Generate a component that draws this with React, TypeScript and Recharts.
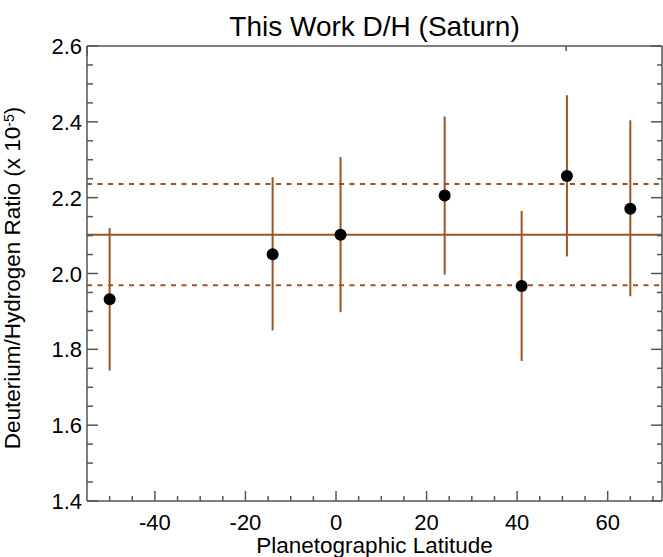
import React from 'react';
import { ComposedChart, Scatter, XAxis, YAxis, ErrorBar, ReferenceLine } from 'recharts';

// ---- data ----
const latitudes = [-50, -14, 1, 24, 41, 51, 65];
const dhRatio = [1.932, 2.051, 2.102, 2.206, 1.967, 2.257, 2.171];
const errLow = [1.744, 1.85, 1.898, 1.997, 1.769, 2.045, 1.94];
const errHigh = [2.12, 2.254, 2.307, 2.414, 2.165, 2.47, 2.404];
const meanDH = 2.102;
const meanLow = 1.969;
const meanHigh = 2.236;

const xMajorTicks = [-40, -20, 0, 20, 40, 60];
const yMajorTicks = [1.4, 1.6, 1.8, 2.0, 2.2, 2.4, 2.6];
const xDomain: [number, number] = [-55, 72];
const yDomain: [number, number] = [1.4, 2.6];

const titleText = 'This Work D/H (Saturn)';
const xLabelText = 'Planetographic Latitude';
const yLabelText = 'Deuterium/Hydrogen Ratio (x 10';
const yLabelExp = '-5';

// minor ticks
const xTicks: number[] = [];
for (let v = -50; v <= 70; v += 5) xTicks.push(v);
const yTicks: number[] = [];
for (let k = 0; k <= 24; k++) yTicks.push(Math.round((1.4 + k * 0.05) * 100) / 100);

const data = latitudes.map((lat, i) => ({
  lat,
  dh: dhRatio[i],
  err: [dhRatio[i] - errLow[i], errHigh[i] - dhRatio[i]],
}));

const BROWN = '#9c5424';
const AXIS = '#555';
const FONT = '"Liberation Sans", Arial, Helvetica, sans-serif';
const TICK_FS = 22;

const isMajor = (list: number[], v: number) => list.some((t) => Math.abs(t - v) < 1e-6);

const BottomTick = (props: any) => {
  const { x, y, payload } = props;
  const v = payload.value;
  const major = isMajor(xMajorTicks, v);
  const len = major ? 10 : 5;
  return (
    <g>
      <line x1={x} y1={y} x2={x} y2={y - len} stroke={AXIS} strokeWidth={1.5} />
      {major && (
        <text x={x} y={y + 29} textAnchor="middle" fontSize={TICK_FS} fontFamily={FONT} fill="#000">
          {String(v)}
        </text>
      )}
    </g>
  );
};

const TopTick = (props: any) => {
  const { x, y, payload } = props;
  const major = isMajor(xMajorTicks, payload.value);
  const len = major ? 10 : 5;
  return <line x1={x} y1={y} x2={x} y2={y + len} stroke={AXIS} strokeWidth={1.5} />;
};

const LeftTick = (props: any) => {
  const { x, y, payload } = props;
  const v = payload.value;
  const major = isMajor(yMajorTicks, v);
  const len = major ? 11 : 6;
  return (
    <g>
      <line x1={x} y1={y} x2={x + len} y2={y} stroke={AXIS} strokeWidth={1.5} />
      {major && (
        <text x={x - 5} y={y + 8} textAnchor="end" fontSize={TICK_FS} fontFamily={FONT} fill="#000">
          {v.toFixed(1)}
        </text>
      )}
    </g>
  );
};

const RightTick = (props: any) => {
  const { x, y, payload } = props;
  const major = isMajor(yMajorTicks, payload.value);
  const len = major ? 11 : 5;
  return <line x1={x} y1={y} x2={x - len} y2={y} stroke={AXIS} strokeWidth={1.5} />;
};

const Dot = (props: any) => <circle cx={props.cx} cy={props.cy} r={6} fill="#000" />;

const XLabel = () => (
  <text x={374.5} y={553} textAnchor="middle" fontSize={22.5} fontFamily={FONT} fill="#000">
    {xLabelText}
  </text>
);

const YLabel = () => (
  <text
    x={0}
    y={0}
    transform="translate(20, 278) rotate(-90)"
    textAnchor="middle"
    fontSize={22.5}
    fontFamily={FONT}
    fill="#000"
  >
    {yLabelText}
    <tspan fontSize={14} dy={-6}>{yLabelExp}</tspan>
    <tspan dy={6}>)</tspan>
  </text>
);

export default function App() {
  return (
    <div style={{ position: 'absolute', left: 0, top: 0, width: 663, height: 557, background: '#fff' }}>
      <div
        style={{
          position: 'absolute',
          left: 87,
          width: 575,
          top: 13,
          textAlign: 'center',
          fontFamily: FONT,
          fontSize: 28,
          lineHeight: '28px',
          color: '#000',
        }}
      >
        {titleText}
      </div>
      <ComposedChart width={663} height={557} data={data} margin={{ top: 45, right: 0, bottom: 0, left: 0 }}>
        <XAxis
          dataKey="lat"
          type="number"
          domain={xDomain}
          ticks={xTicks}
          interval={0}
          allowDataOverflow
          height={56}
          tickSize={0}
          tickMargin={0}
          tickLine={false}
          axisLine={{ stroke: AXIS, strokeWidth: 1.5 }}
          tick={BottomTick}
          label={XLabel}
        />
        <XAxis
          xAxisId="top"
          orientation="top"
          type="number"
          domain={xDomain}
          ticks={xTicks}
          interval={0}
          allowDataOverflow
          height={1}
          tickSize={0}
          tickMargin={0}
          tickLine={false}
          axisLine={{ stroke: AXIS, strokeWidth: 1.5 }}
          tick={TopTick}
        />
        <YAxis
          type="number"
          domain={yDomain}
          ticks={yTicks}
          interval={0}
          allowDataOverflow
          width={87}
          tickSize={0}
          tickMargin={0}
          tickLine={false}
          axisLine={{ stroke: AXIS, strokeWidth: 1.5 }}
          tick={LeftTick}
          label={YLabel}
        />
        <YAxis
          yAxisId="right"
          orientation="right"
          type="number"
          domain={yDomain}
          ticks={yTicks}
          interval={0}
          allowDataOverflow
          width={1}
          tickSize={0}
          tickMargin={0}
          tickLine={false}
          axisLine={{ stroke: AXIS, strokeWidth: 1.5 }}
          tick={RightTick}
        />
        <ReferenceLine y={meanDH} stroke={BROWN} strokeWidth={2} ifOverflow="hidden" />
        <ReferenceLine y={meanHigh} stroke={BROWN} strokeWidth={2} strokeDasharray="5 5.5" />
        <ReferenceLine y={meanLow} stroke={BROWN} strokeWidth={2} strokeDasharray="5 5.5" />
        <Scatter dataKey="dh" shape={Dot} isAnimationActive={false}>
          <ErrorBar dataKey="err" direction="y" width={0} stroke={BROWN} strokeWidth={2} isAnimationActive={false} />
        </Scatter>
      </ComposedChart>
    </div>
  );
}
